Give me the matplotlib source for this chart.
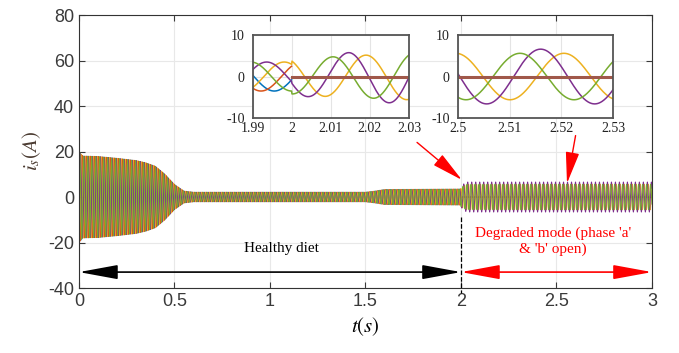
"""
Stator phase currents: healthy and degraded (two phases open) operation
"""
import numpy as np
import matplotlib.pyplot as plt

plt.rcParams.update({'font.family': 'Liberation Sans', 'font.size': 12,
                     'axes.unicode_minus': False, 'mathtext.fontset': 'stix'})

# Current envelope during healthy operation
env_t = [0.0, 0.02, 0.1, 0.2, 0.3, 0.35, 0.4, 0.45, 0.5, 0.55, 0.6, 1.5, 1.55, 1.6, 2.0]
env_amp = [20.0, 18.0, 17.8, 17.0, 16.0, 15.0, 13.5, 10.0, 5.5, 2.6, 2.1, 2.1, 2.6, 3.3, 3.5]

# After t = 2 s: only three phases carry current
post_t = [2.0, 2.015, 2.03, 3.0]
post_green = [4.2, 5.0, 5.6, 5.6]
post_purple = [4.5, 5.8, 6.6, 6.6]
post_yellow = [4.5, 5.0, 5.6, 5.6]

period = 0.0209  # s
phase_names = ['orange', 'blue', 'green', 'purple', 'yellow']
peak_times = [1.9816, 1.985, 1.9895, 1.9935, 1.998]
colors = {'blue': '#0072BD', 'orange': '#D95319', 'yellow': '#EDB120',
          'purple': '#7E2F8E', 'green': '#77AC30'}
zero_color = '#A0584A'

t = np.arange(0, 3.0, 1e-4)
healthy_env = np.interp(t, env_t, env_amp)
post = {'green': post_green, 'purple': post_purple, 'yellow': post_yellow}

currents = {}
for name, tp in zip(phase_names, peak_times):
    env = healthy_env.copy()
    late = t >= 2.0
    if name in post:
        env[late] = np.interp(t[late], post_t, post[name])
    else:
        env[late] = 0.0
    currents[name] = env * np.cos(2 * np.pi * (t - tp) / period)

draw_order = ['blue', 'orange', 'yellow', 'purple', 'green']

fig = plt.figure(figsize=(6.79, 3.53), dpi=100)
ax = fig.add_axes([0.1163, 0.1841, 0.8439, 0.7734])
for name in draw_order:
    ax.plot(t, currents[name], color=colors[name], lw=0.7)
ax.set_xlim(0, 3)
ax.set_ylim(-40, 80)
ax.set_xticks([0, 0.5, 1, 1.5, 2, 2.5, 3])
ax.set_xticklabels(['0', '0.5', '1', '1.5', '2', '2.5', '3'])
ax.set_yticks([-40, -20, 0, 20, 40, 60, 80])
ax.grid(True, color='#e8e8e8', lw=0.8)
ax.tick_params(direction='in', top=True, right=True, colors='#3a3a3a',
               labelsize=13, length=4)
for s in ax.spines.values():
    s.set_color('#333333')
ax.set_ylabel('$i_s(A)$', fontsize=15, color='#4a3a30', labelpad=4)
ax.set_xlabel('$t(s)$', fontsize=15, labelpad=4)

# Mode separation and arrows
ax.plot([2, 2], [-9, -42], 'k--', lw=0.9, clip_on=False)
ax.annotate('', xy=(0, -33), xytext=(2, -33),
            arrowprops=dict(arrowstyle='<|-|>,head_length=1.2,head_width=0.22',
                            color='black', lw=1.2, mutation_scale=20,
                            shrinkA=0, shrinkB=0))
ax.annotate('', xy=(2, -33), xytext=(3, -33),
            arrowprops=dict(arrowstyle='<|-|>,head_length=1.2,head_width=0.22',
                            color='red', lw=1.2, mutation_scale=20,
                            shrinkA=0, shrinkB=0))
ax.text(1.06, -22.5, 'Healthy diet', ha='center', va='center',
        fontfamily='Liberation Serif', fontsize=11)
ax.text(2.48, -19.5, "Degraded mode (phase 'a'\n& 'b' open)", ha='center',
        va='center', fontfamily='Liberation Serif', fontsize=11, color='red',
        linespacing=1.25)
ax.annotate('', xy=(2.005, 7.5), xytext=(1.77, 24),
            arrowprops=dict(arrowstyle='-|>,head_length=1.3,head_width=0.28',
                            color='red', lw=1.0, mutation_scale=15,
                            shrinkA=0, shrinkB=0))
ax.annotate('', xy=(2.555, 6.0), xytext=(2.6, 27),
            arrowprops=dict(arrowstyle='-|>,head_length=1.3,head_width=0.28',
                            color='red', lw=1.0, mutation_scale=15,
                            shrinkA=0, shrinkB=0))

# Zoomed insets
inset_specs = [([0.3726, 0.6657, 0.2297, 0.235], (1.99, 2.03),
                [1.99, 2, 2.01, 2.02, 2.03], ['1.99', '2', '2.01', '2.02', '2.03']),
               ([0.6745, 0.6657, 0.2283, 0.235], (2.5, 2.53),
                [2.5, 2.51, 2.52, 2.53], ['2.5', '2.51', '2.52', '2.53'])]
for rect, xl, xt, xtl in inset_specs:
    ins = fig.add_axes(rect)
    m = (t >= xl[0] - 0.001) & (t <= xl[1] + 0.001)
    for name in draw_order:
        y = currents[name][m].copy()
        if name in ('blue', 'orange'):
            y[t[m] >= 2.0] = np.nan
        ins.plot(t[m], y, color=colors[name], lw=1.1)
    zm = m & (t >= 2.0)
    ins.plot(t[zm], np.zeros(zm.sum()), color=zero_color, lw=2.2)
    ins.set_xlim(*xl)
    ins.set_ylim(-10, 10)
    ins.set_xticks(xt)
    ins.set_xticklabels(xtl, fontfamily='Liberation Serif')
    ins.set_yticks([-10, 0, 10])
    ins.set_yticklabels(['-10', '0', '10'], fontfamily='Liberation Serif')
    ins.grid(True, color='#e4e4e4', lw=0.8)
    ins.tick_params(direction='in', length=0, labelsize=10, colors='#222222')
    ins.tick_params(axis='x', pad=3)
    ins.tick_params(axis='y', pad=6)
    for s in ins.spines.values():
        s.set_color('#555555')
        s.set_linewidth(1.3)

fig.savefig('out.png', dpi=100)
